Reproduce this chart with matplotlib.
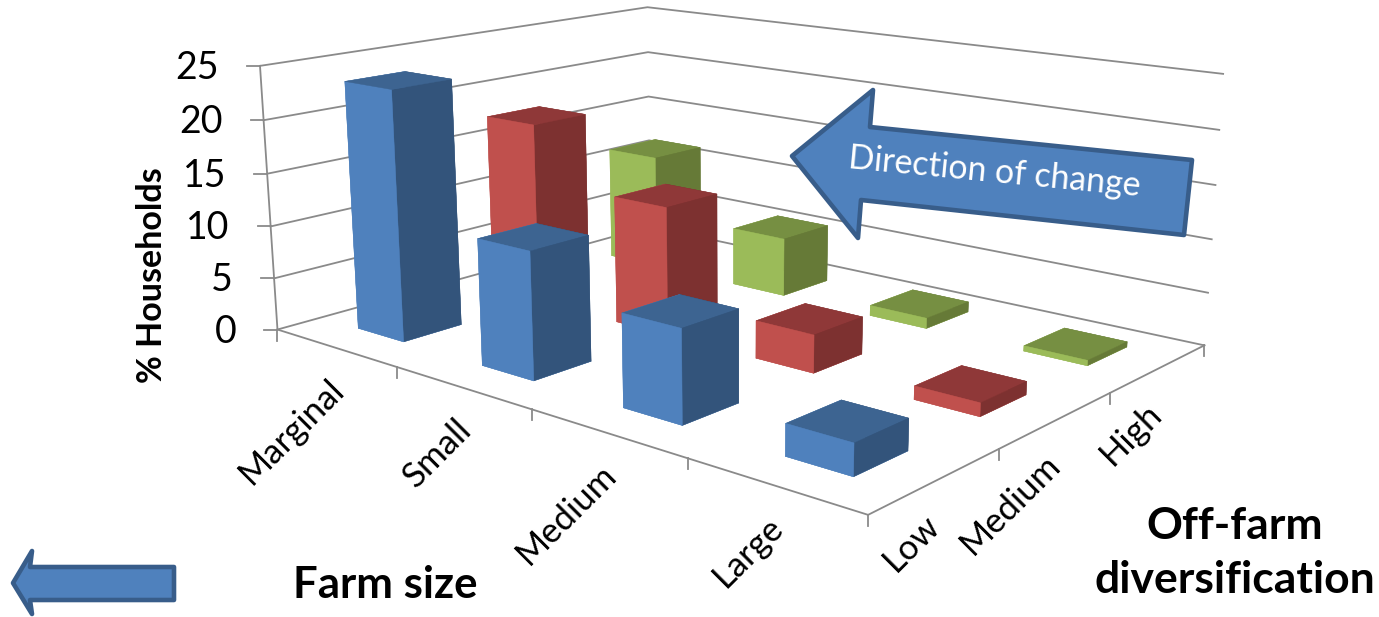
import numpy as np
import matplotlib
matplotlib.use("Agg")
import matplotlib.pyplot as plt
from matplotlib.lines import Line2D
from matplotlib.patches import Polygon
from matplotlib.transforms import IdentityTransform
from mpl_toolkits.mplot3d import Axes3D  # noqa: F401

plt.rcParams['font.family'] = ['Lato', 'DejaVu Sans']

# Share of households by farm size and off-farm diversification
farm_sizes = ["Marginal", "Small", "Medium", "Large"]
diversification = ["Low", "Medium", "High"]
low_share = [23.5, 11.6, 8.2, 2.7]
medium_share = [17.7, 12.2, 3.5, 1.2]
high_share = [11.6, 5.8, 1.0, 0.5]
z_ticks = [0, 5, 10, 15, 20, 25]

W, H = 1379, 617
BAR_X0, BAR_DX = 0.32, 0.38
BAR_Y0, BAR_DY = 0.30, 0.41

# Camera calibration: chart-box points and where they sit on the canvas
anchor_world = np.array([
    (0, 0, 0), (0, 0, 5), (0, 0, 10), (0, 0, 15), (0, 0, 20), (0, 0, 25),
    (0, 3, 25), (0, 3, 20), (0, 3, 15),
    (4, 3, 0), (4, 3, 5), (4, 3, 10), (4, 3, 15), (4, 3, 20), (4, 3, 25),
    (4, 0, 0),
], float)
anchor_px = np.array([
    (277, 330), (274, 278), (271, 226), (268, 174), (263, 120), (260, 66),
    (647, 7), (648, 52), (649, 97),
    (1204, 345), (1208, 293), (1212, 239), (1216, 185), (1219, 130), (1223, 74),
    (868, 515),
], float)


def fit_camera(world, px):
    rows = []
    for (x, y, z), (u, v) in zip(world, px):
        v = H - v
        rows.append([x, y, z, 1, 0, 0, 0, 0, -u * x, -u * y, -u * z, -u])
        rows.append([0, 0, 0, 0, x, y, z, 1, -v * x, -v * y, -v * z, -v])
    # scale columns so the solve is well conditioned
    a = np.array(rows)
    scale = np.abs(a).max(axis=0)
    _, _, vt = np.linalg.svd(a / scale)
    p = (vt[-1] / scale).reshape(3, 4)
    centre = p[2] @ np.array([2, 1.5, 10, 1])
    return p / centre


CAM = fit_camera(anchor_world, anchor_px)


def to_px(x, y, z):
    u, v, w = CAM @ np.array([x, y, z, 1.0])
    return u / w, v / w


fig = plt.figure(figsize=(W / 100, H / 100), dpi=100, facecolor="white")
ax = fig.add_axes([0, 0, 1, 1], projection="3d", computed_zorder=False)
ax.set_axis_off()
ax.patch.set_visible(False)
ax.apply_aspect = lambda position=None: None


def camera_matrix():
    to_view = ax.transData.inverted().get_matrix()
    p = to_view @ CAM
    return np.array([p[0], p[1], CAM[2] - np.array([0, 0, 0, 1.0]), CAM[2]])


ax.get_proj = camera_matrix

GRID = "#8a8a8a"
LW = 1.3


def box_line(points):
    """Draw a polyline given in chart coordinates, behind the bars."""
    uv = np.array([to_px(*p) for p in points])
    fig.add_artist(Line2D(uv[:, 0], uv[:, 1], color=GRID, lw=LW, zorder=-1,
                          solid_joinstyle="miter",
                          transform=IdentityTransform()))


def tick_mark(x, y, z, du, dv):
    u, v = to_px(x, y, z)
    fig.add_artist(Line2D([u + du, u], [v + dv, v], color=GRID, lw=LW, zorder=-1,
                          transform=IdentityTransform()))


# Walls and floor outline
for z in z_ticks:
    box_line([(0, 0, z), (0, 3, z), (4, 3, z)])
box_line([(0, 0, 0), (0, 0, 25)])
box_line([(0, 0, 0), (4, 0, 0), (4, 3, 0)])

# Tick marks on the three axes
for z in z_ticks:
    tick_mark(0, 0, z, -13, 0)
for i in range(5):
    tick_mark(i, 0, 0, 0, -11)
for j in range(1, 4):
    tick_mark(4, j, 0, 0, -11)

# Face colours in bar3d order: bottom, top, front, back, left, right
palette = {
    0: ("#3d6491", "#4f81bd", "#33547b"),
    1: ("#8f3838", "#c0504d", "#7d3130"),
    2: ("#768f42", "#9bbb59", "#667a37"),
}
series = [low_share, medium_share, high_share]
for j in range(2, -1, -1):
    top, front, side = palette[j]
    faces = [front, top, front, side, front, side]
    for i, value in enumerate(series[j]):
        ax.bar3d(i + BAR_X0, j + BAR_Y0, 0,
                 BAR_DX, BAR_DY, value, color=faces, shade=False,
                 edgecolor=faces, linewidth=0.3, zorder=10 + i - j)
ax.set_xlim(0, 4)
ax.set_ylim(0, 3)
ax.set_zlim(0, 25)


def px_text(u, v, s, **kw):
    return fig.text(u, v, s, transform=IdentityTransform(), **kw)


for z in z_ticks:
    u, v = to_px(0, 0, z)
    px_text(u - 41, v - 2, str(z), ha="right", va="center", fontsize=27)

for i, name in enumerate(farm_sizes):
    u, v = to_px(i + 0.5, 0, 0)
    px_text(u + 4, v - 37, name, ha="right", va="center", rotation=45,
            rotation_mode="anchor", fontsize=25)
for j, name in enumerate(diversification):
    u, v = to_px(4, j + 0.5, 0)
    px_text(u - 2, v - 40, name, ha="right", va="center", rotation=45,
            rotation_mode="anchor", fontsize=25)

px_text(152, H - 275, "% Households", rotation=90, ha="center", va="center",
        fontsize=24.5, fontweight="bold")
px_text(385, H - 585, "Farm size", ha="center", va="center", fontsize=31.5,
        fontweight="bold")
px_text(1235, H - 553, "Off-farm\ndiversification", ha="center", va="center",
        fontsize=32, fontweight="bold", linespacing=1.4)

# Block arrows
ARROW_FILL, ARROW_EDGE = "#4f81bd", "#385d8a"
big_arrow = [(792, 156), (873, 90), (870, 127), (1192, 160), (1184, 235),
             (861, 200), (858, 238)]
small_arrow = [(13, 583), (32, 551), (30, 567), (174, 567), (174, 600),
               (30, 600), (32, 614)]
for outline in (big_arrow, small_arrow):
    pts = [(x, H - y) for x, y in outline]
    fig.add_artist(Polygon(pts, closed=True, facecolor=ARROW_FILL,
                           edgecolor=ARROW_EDGE, lw=3.3, joinstyle="round",
                           transform=IdentityTransform()))
px_text(994, H - 172, "Direction of change", color="white", ha="center",
        va="center", rotation=-5.5, rotation_mode="anchor", fontsize=24.4)

fig.savefig("out.png", dpi=100)
